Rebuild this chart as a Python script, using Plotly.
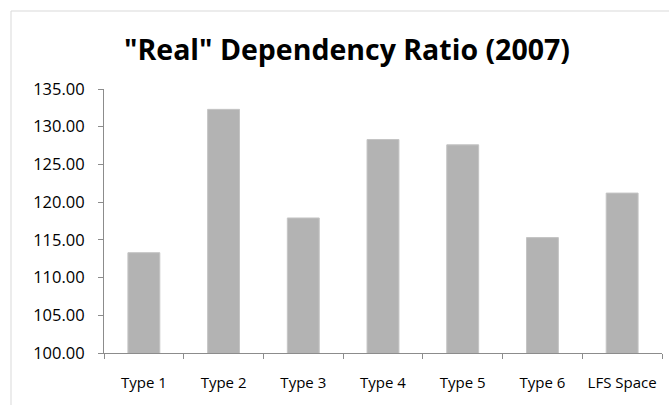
import plotly.graph_objects as go

# "Real" dependency ratio by area type, 2007
categories = ["Type 1", "Type 2", "Type 3", "Type 4", "Type 5", "Type 6", "LFS Space"]
ratios = [113.3, 132.3, 117.9, 128.3, 127.6, 115.3, 121.2]
y_ticks = [100, 105, 110, 115, 120, 125, 130, 135]

W, H = 669, 405
L, R, T, B = 104, 7, 89, 52
pw, ph = W - L - R, H - T - B

def px_x(x):
    return (x - L) / pw

def px_y(y):
    return (H - B - y) / ph

axis_grey = "#8c8c8c"
font_family = "Open Sans, Lato, sans-serif"
title_family = "Liberation Sans Narrow, Open Sans, sans-serif"

fig = go.Figure(
    go.Bar(
        x=categories,
        y=ratios,
        marker=dict(color="#b3b3b3", line=dict(color="#c4c4c4", width=1)),
        hoverinfo="x+y",
    )
)

fig.update_layout(
    width=W,
    height=H,
    margin=dict(l=L, r=R, t=T, b=B),
    paper_bgcolor="white",
    plot_bgcolor="white",
    bargap=0.6,
    showlegend=False,
    font=dict(family=font_family, size=15, color="#000000"),
    title=dict(
        text='<b>"Real" Dependency Ratio (2007)</b>',
        x=px_x(347),
        xref="paper",
        xanchor="center",
        y=1 - 50.5 / H,
        yanchor="middle",
        font=dict(family=title_family, size=28.5, color="#000000"),
    ),
    shapes=[
        dict(
            type="rect", xref="paper", yref="paper",
            x0=px_x(11), x1=px_x(W + 20), y0=px_y(H + 20), y1=px_y(11),
            line=dict(color="#d9d9d9", width=1), fillcolor="rgba(0,0,0,0)",
            layer="below",
        )
    ],
)

fig.update_xaxes(
    type="category",
    showline=True,
    linecolor=axis_grey,
    linewidth=1,
    ticks="outside",
    tickson="boundaries",
    ticklen=5,
    tickcolor=axis_grey,
    showgrid=False,
    ticklabelstandoff=16,
    tickfont=dict(family=font_family, size=15),
)

fig.update_yaxes(
    range=[100, 135],
    tickvals=y_ticks,
    tickformat=".2f",
    showline=True,
    linecolor=axis_grey,
    linewidth=1,
    ticks="outside",
    ticklen=5,
    tickcolor=axis_grey,
    showgrid=False,
    zeroline=False,
    ticklabelstandoff=10,
    tickfont=dict(family=font_family, size=16.5),
)

fig.write_html("out.html")
